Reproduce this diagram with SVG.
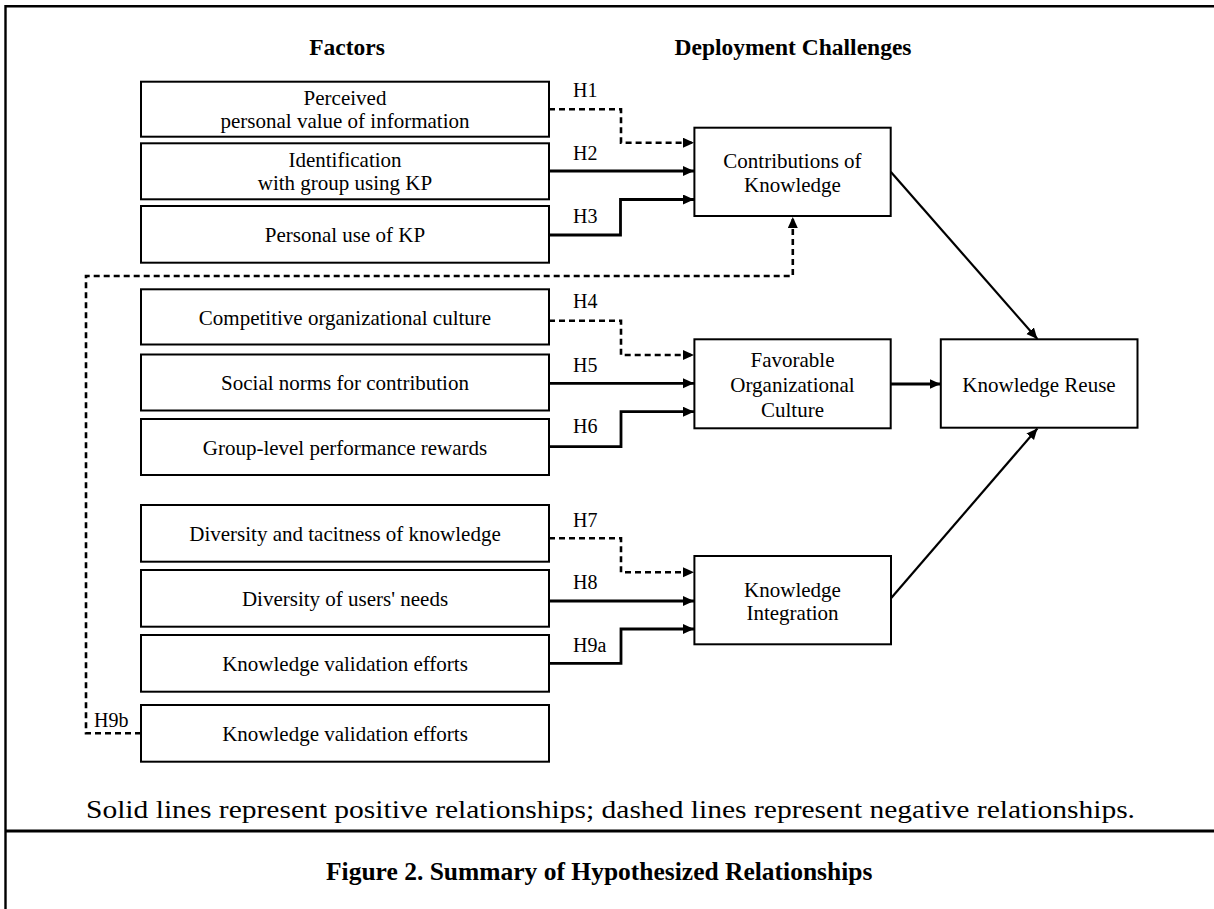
<svg xmlns="http://www.w3.org/2000/svg" width="1214" height="909" viewBox="0 0 1214 909" font-family="'Liberation Serif', 'Times New Roman', serif">
<style>
.frame{fill:none;stroke:#000;stroke-width:2.4}
.box{fill:#fff;stroke:#000;stroke-width:2}
.t{font-size:21px;fill:#000;text-anchor:middle}
.h{font-size:20px;fill:#000}
.hdr{font-size:23.5px;font-weight:bold;fill:#000;text-anchor:middle}
.solid{fill:none;stroke:#000;stroke-width:2.8;marker-end:url(#arr)}
.thin{fill:none;stroke:#000;stroke-width:2.2;marker-end:url(#arr)}
.dash{fill:none;stroke:#000;stroke-width:2.6;stroke-dasharray:6 4;marker-end:url(#arr)}
</style>
<defs>
<marker id="arr" markerUnits="userSpaceOnUse" markerWidth="12" markerHeight="11" refX="11" refY="5" orient="auto">
<path d="M0,0 L11,5 L0,10 z" fill="#000"/>
</marker>
</defs>
<rect width="1214" height="909" fill="#fff"/>
<g id="frame">
<path class="frame" d="M5.5,909 V6.2 H1214"/>
<line x1="5.5" y1="831" x2="1214" y2="831" stroke="#000" stroke-width="3"/>
</g>
<g id="headers" font-family="'Liberation Serif', 'Times New Roman', serif">
<text class="hdr" x="347" y="55">Factors</text>
<text class="hdr" x="793" y="55">Deployment Challenges</text>
</g>
<g id="connectors" font-family="'Liberation Serif', 'Times New Roman', serif">
<path class="dash" d="M549,109.3 H621 V142.7 H694"/>
<path class="solid" d="M549,171 H694"/>
<path class="solid" d="M549,235 H620.5 V199.5 H694"/>
<path class="dash" d="M549,320.7 H621 V355 H694"/>
<path class="solid" d="M549,383.3 H694"/>
<path class="solid" d="M549,446.7 H621 V411.7 H694"/>
<path class="dash" d="M549,538.3 H621 V572.3 H694"/>
<path class="solid" d="M549,601 H694"/>
<path class="solid" d="M549,663.3 H621 V629 H694"/>
<path class="dash" d="M141,733.3 H86 V276 H792.8 V217"/>
<path class="thin" d="M890.7,171.7 L1037.4,339"/>
<path class="thin" d="M891,598.3 L1037.4,428.5"/>
<path class="solid" d="M890.7,384 H940.5"/>
<text class="h" x="573" y="96.7">H1</text>
<text class="h" x="573" y="160">H2</text>
<text class="h" x="573" y="222.7">H3</text>
<text class="h" x="573" y="308">H4</text>
<text class="h" x="573" y="371.7">H5</text>
<text class="h" x="573" y="433.3">H6</text>
<text class="h" x="573" y="526.7">H7</text>
<text class="h" x="573" y="589.3">H8</text>
<text class="h" x="573" y="651.7">H9a</text>
<text class="h" x="94" y="727">H9b</text>
</g>
<g id="factors" font-family="'Liberation Serif', 'Times New Roman', serif">
<g id="f1"><rect class="box" x="141" y="81.7" width="408" height="55"/><text class="t" x="345" y="105">Perceived</text><text class="t" x="345" y="128.3">personal value of information</text></g>
<g id="f2"><rect class="box" x="141" y="143.3" width="408" height="56"/><text class="t" x="345" y="166.7">Identification</text><text class="t" x="345" y="190">with group using KP</text></g>
<g id="f3"><rect class="box" x="141" y="206" width="408" height="56.7"/><text class="t" x="345" y="241.8">Personal use of KP</text></g>
<g id="f4"><rect class="box" x="141" y="289.3" width="408" height="55.2"/><text class="t" x="345" y="325">Competitive organizational culture</text></g>
<g id="f5"><rect class="box" x="141" y="354.5" width="408" height="56"/><text class="t" x="345" y="390">Social norms for contribution</text></g>
<g id="f6"><rect class="box" x="141" y="419" width="408" height="56"/><text class="t" x="345" y="454.5">Group-level performance rewards</text></g>
<g id="f7"><rect class="box" x="141" y="505" width="408" height="56.7"/><text class="t" x="345" y="541">Diversity and tacitness of knowledge</text></g>
<g id="f8"><rect class="box" x="141" y="570" width="408" height="56.7"/><text class="t" x="345" y="606">Diversity of users' needs</text></g>
<g id="f9"><rect class="box" x="141" y="635" width="408" height="56.7"/><text class="t" x="345" y="671">Knowledge validation efforts</text></g>
<g id="f10"><rect class="box" x="141" y="705" width="408" height="56.7"/><text class="t" x="345" y="741">Knowledge validation efforts</text></g>
</g>
<g id="challenges" font-family="'Liberation Serif', 'Times New Roman', serif">
<g id="contrib"><rect class="box" x="694.4" y="127.7" width="196.3" height="88.3"/><text class="t" x="792.5" y="168.3">Contributions of</text><text class="t" x="792.5" y="191.7">Knowledge</text></g>
<g id="culture"><rect class="box" x="694.4" y="339.3" width="196.3" height="89"/><text class="t" x="792.5" y="366.7">Favorable</text><text class="t" x="792.5" y="391.7">Organizational</text><text class="t" x="792.5" y="416.7">Culture</text></g>
<g id="integration"><rect class="box" x="694.4" y="556" width="196.6" height="88.3"/><text class="t" x="792.5" y="596.7">Knowledge</text><text class="t" x="792.5" y="620">Integration</text></g>
<g id="reuse"><rect class="box" x="940.8" y="339.3" width="196.7" height="88.4"/><text class="t" x="1039" y="391.7">Knowledge Reuse</text></g>
</g>
<g id="legend" font-family="'Liberation Serif', 'Times New Roman', serif">
<text x="86" y="818" font-size="25" textLength="1049" lengthAdjust="spacingAndGlyphs" fill="#000">Solid lines represent positive relationships; dashed lines represent negative relationships.</text>
<text x="326" y="880" font-size="25.5" font-weight="bold" fill="#000">Figure 2. Summary of Hypothesized Relationships</text>
</g>
</svg>
